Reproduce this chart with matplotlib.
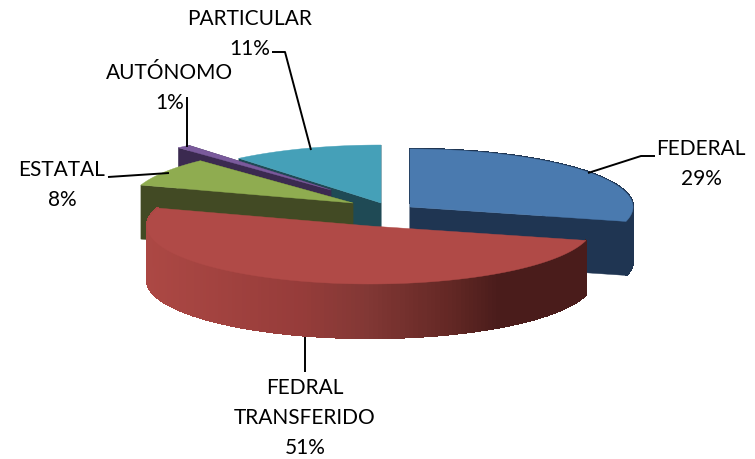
import numpy as np
import matplotlib
matplotlib.use("Agg")
import matplotlib.pyplot as plt

categories = ["FEDERAL", "FEDRAL\nTRANSFERIDO", "ESTATAL", "AUTÓNOMO", "PARTICULAR"]
values = [29, 51, 8, 1, 11]

top_colors = ["#4a7aaf", "#b04a47", "#8fac50", "#7a5a9c", "#45a0b8"]
wall_colors = ["#1f3552", "#4a1c1b", "#424a24", "#3b2a50", "#1f4a55"]
apexes = [(410, 207), (370, 226), (353, 203), (331, 190), (381, 203)]
label_pos = [(701, 164), (305, 418), (62, 185), (170, 88), (250, 34)]
leaders = [
    [(588, 173), (641, 156), (655, 156)],
    [(305, 337), (305, 372)],
    [(108, 177), (169, 173)],
    [(187, 97), (187, 147)],
    [(272, 52), (285, 52), (311, 150)],
]
RX, RY, DEPTH = 223, 58, 54

plt.rcParams["font.family"] = ["Lato", "DejaVu Sans"]
fig = plt.figure(figsize=(7.55, 4.59), dpi=100)
ax = fig.add_axes([0, 0, 1, 1])
ax.set_xlim(0, 755)
ax.set_ylim(459, 0)
ax.axis("off")

edges = np.concatenate([[0], np.cumsum(values)]) / sum(values) * 2 * np.pi


def rim(i, n=160):
    t = np.linspace(edges[i], edges[i + 1], n)
    cx, cy = apexes[i]
    return t, cx + RX * np.sin(t), cy - RY * np.cos(t)


def red_shade(x):
    xs = [147, 300, 363, 447, 497, 590]
    cols = np.array([(172, 72, 68), (150, 60, 58), (131, 56, 53),
                     (100, 40, 37), (74, 28, 27), (74, 28, 27)]) / 255
    return [float(np.interp(x, xs, cols[:, k])) for k in range(3)]


def strips(x, y, colour_of, z):
    for k in range(len(x) - 1):
        xm = (x[k] + x[k + 1]) / 2
        ax.fill([x[k], x[k + 1], x[k + 1], x[k]],
                [y[k], y[k + 1], y[k + 1] + DEPTH, y[k] + DEPTH],
                color=colour_of(xm), lw=1.0, antialiased=False, zorder=z)


def draw_slice(i, z):
    t, x, y = rim(i)
    cx, cy = apexes[i]
    if i == 1:
        # the large slice shows only its shaded outer wall
        strips(x, y, red_shade, z)
    else:
        for px, py in ((x[0], y[0]), (x[-1], y[-1])):
            ax.fill([cx, px, px, cx], [cy, py, py + DEPTH, cy + DEPTH],
                    color=wall_colors[i], lw=0.3, zorder=z)
        if i == 0:
            strips(x, y, lambda _: wall_colors[i], z)
    ax.fill(np.r_[cx, x], np.r_[cy, y], color=top_colors[i], lw=0.3, zorder=z + 0.5)


for z, i in enumerate([4, 3, 0, 2, 1]):
    draw_slice(i, z + 1)

for pts in leaders:
    p = np.array(pts)
    ax.plot(p[:, 0], p[:, 1], color="black", lw=1.4, zorder=10, solid_capstyle="butt")

for name, v, (lx, ly) in zip(categories, values, label_pos):
    ax.text(lx, ly, f"{name}\n{v}%", ha="center", va="center", fontsize=15,
            color="black", linespacing=1.6, zorder=11)

fig.savefig("out.png", dpi=100, facecolor="white")
